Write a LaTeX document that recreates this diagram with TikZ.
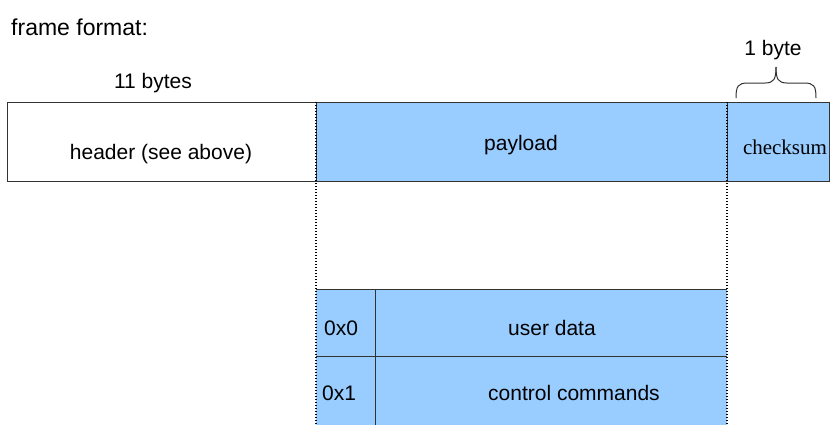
\documentclass[tikz,border=0pt]{standalone}
\usepackage{fontspec}
\setmainfont{Liberation Sans}
\newfontfamily\seriffam{Liberation Serif}
\definecolor{fillblue}{HTML}{99CCFF}
\definecolor{edgegray}{HTML}{333333}
\begin{document}
\begin{tikzpicture}[x=1pt,y=-1pt,
  boxline/.style={draw=edgegray,line width=1pt},
  txt/.style={inner sep=0pt,anchor=base,font=\fontsize{21}{25}\selectfont},
  dotline/.style={draw=black,line width=1.3pt,dash pattern=on 1.1pt off 1.9pt}]
\useasboundingbox (0,0) rectangle (830,424);
% top row boxes
\path[boxline,fill=white] (7,102) rectangle (316,181);
\path[boxline,fill=fillblue] (316,102) rectangle (727,181);
\path[boxline,fill=fillblue] (727,102) rectangle (829,181);
% lower table
\fill[fillblue] (316,289) rectangle (727,426);
\draw[boxline] (316,289) -- (727,289);
\draw[boxline] (316,356) -- (727,356);
\draw[boxline] (375,289) -- (375,426);
% named corner coordinates for dotted guides
\coordinate (pl) at (316,102);
\coordinate (pr) at (727,102);
\coordinate (bl) at (316,426);
\coordinate (br) at (727,426);
\draw[dotline] (pl) -- (bl);
\draw[dotline] (pr) -- (br);
% brace
\draw[edgegray,line width=1pt] (736,98) .. controls (736,86) and (738,83) .. (748,83) -- (765,83) .. controls (774,83) and (776,79) .. (776,67);
\draw[edgegray,line width=1pt] (816,98) .. controls (816,86) and (814,83) .. (804,83) -- (787,83) .. controls (778,83) and (776,79) .. (776,67);
% texts
\node[txt,anchor=base west,font=\fontsize{23}{27}\selectfont] (title) at (11,35) {frame format:};
\node[txt] (elev) at (153,88) {11 bytes};
\node[txt] (one) at (773,55) {1 byte};
\node[txt] (header) at (161,159) {header (see above)};
\node[txt] (payload) at (521,150) {payload};
\node[txt,font=\seriffam\fontsize{21}{25}\selectfont] (checksum) at (785,154) {checksum};
\node[txt] (c0) at (341,335) {0x0};
\node[txt] (user) at (552,335) {user data};
\node[txt] (c1) at (339,400) {0x1};
\node[txt] (ctrl) at (574,400) {control commands};
\end{tikzpicture}
\end{document}
